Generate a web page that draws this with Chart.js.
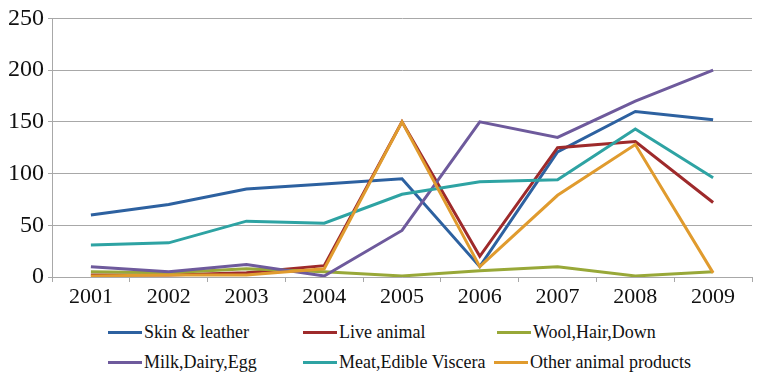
<!DOCTYPE html>
<html><head><meta charset="utf-8">
<script src="https://cdn.jsdelivr.net/npm/chart.js@4/dist/chart.umd.min.js"></script>
<style>
html,body{margin:0;padding:0;background:#fff;}
#wrap{position:relative;width:768px;height:385px;}
#cwrap{position:absolute;left:0;top:0;width:768px;height:315px;}
#legend{position:absolute;left:108px;top:322px;width:640px;font-family:"Liberation Serif","Times New Roman",serif;font-size:18px;color:#111;}
.item{position:absolute;display:flex;align-items:center;white-space:nowrap;}
.swatch{display:inline-block;width:34px;height:3px;margin-right:2px;}
</style></head>
<body><div id="wrap"><div id="cwrap"><canvas id="c"></canvas></div><div id="legend"></div></div>
<script>
const years = ["2001","2002","2003","2004","2005","2006","2007","2008","2009"];
const seriesNames = ["Skin & leather","Live animal","Wool,Hair,Down","Milk,Dairy,Egg","Meat,Edible Viscera","Other animal products"];
const skinLeather = [60,70,85,90,95,10,121,160,152];
const liveAnimal = [2,2,4,11,150,20,125,131,72];
const woolHairDown = [5,4,8,5,1,6,10,1,5];
const milkDairyEgg = [10,5,12,1,45,150,135,170,200];
const meatViscera = [31,33,54,52,80,92,94,143,96];
const otherProducts = [1,2,2,8,150,10,79,128,4];
const colors = ["#2D61A0","#9E2A2B","#98A838","#6E5A9C","#2EA3A3","#E09B2E"];
const yTicks = [0,50,100,150,200,250];

const allData = [skinLeather, liveAnimal, woolHairDown, milkDairyEgg, meatViscera, otherProducts];
const datasets = allData.map((d,i)=>({
  label: seriesNames[i], data: d, borderColor: colors[i], backgroundColor: colors[i],
  borderWidth: 3, pointRadius: 0, tension: 0, fill: false, order: allData.length - i
}));
const gridCol = "#a8a8a8";
const serif = "'Liberation Serif', 'Times New Roman', serif";
new Chart(document.getElementById("c"), {
  type: "line",
  data: { labels: years, datasets },
  options: {
    responsive: true, maintainAspectRatio: false, animation: false,
    layout: { padding: { top: 10, right: 16, left: 0, bottom: 0 } },
    plugins: { legend: { display: false }, tooltip: { enabled: false } },
    scales: {
      x: {
        offset: true,
        grid: { display: true, drawOnChartArea: false, drawTicks: true, tickLength: 5, color: gridCol, offset: true },
        border: { display: true, color: gridCol },
        ticks: { color: "#111", padding: 2, font: { family: serif, size: 22 } },
        afterFit: s => { s.height = 38; }
      },
      y: {
        min: 0, max: 250,
        afterBuildTicks: s => { s.ticks = yTicks.map(v=>({value:v})); },
        grid: { color: gridCol, drawTicks: true, tickLength: 4, lineWidth: 1 },
        border: { display: true, color: gridCol },
        ticks: { color: "#111", padding: 4, font: { family: serif, size: 24 } },
        afterFit: s => { s.width = 52; }
      }
    }
  }
});
const leg = document.getElementById("legend");
const pos = [[0,0],[195,0],[389,0],[0,30],[195,30],[386,30]];
seriesNames.forEach((n,i)=>{
  const it = document.createElement("div"); it.className="item";
  it.style.left = pos[i][0]+"px"; it.style.top = pos[i][1]+"px";
  const sw = document.createElement("span"); sw.className="swatch"; sw.style.background = colors[i];
  const t = document.createElement("span"); t.textContent = n;
  it.appendChild(sw); it.appendChild(t); leg.appendChild(it);
});
</script></body></html>
